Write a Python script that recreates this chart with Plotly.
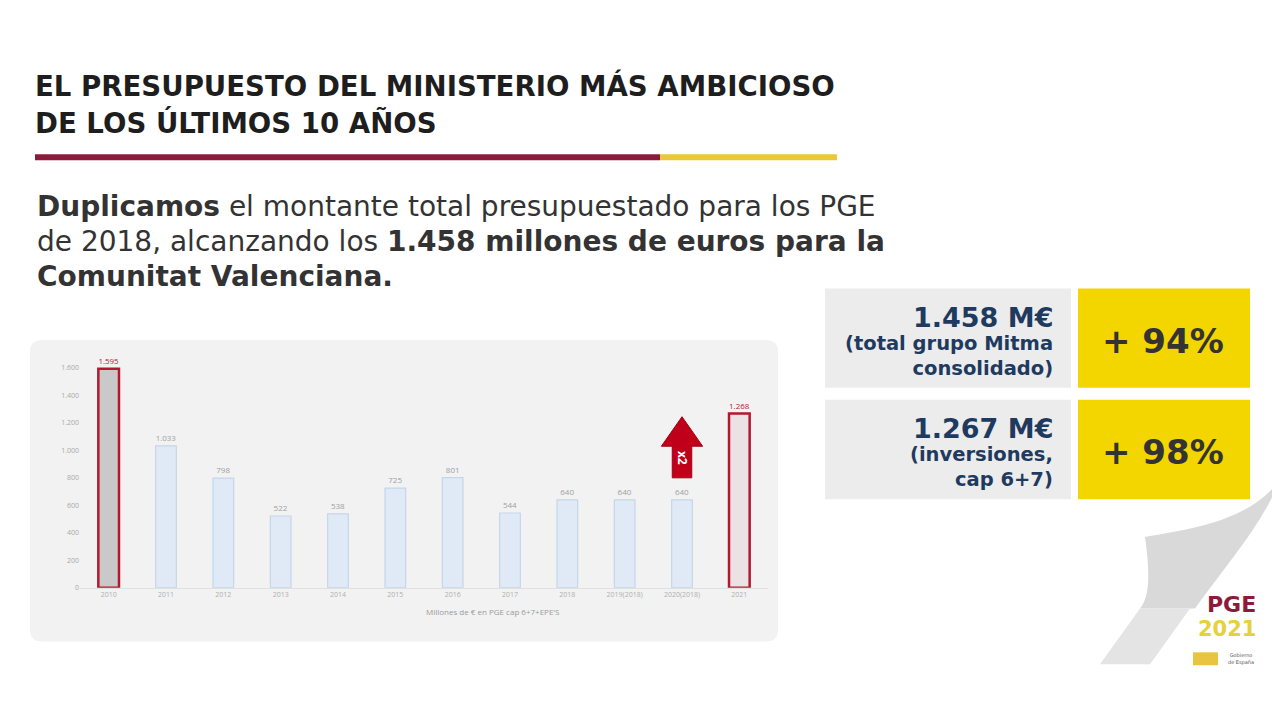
import plotly.graph_objects as go

# ---- data ----
categories = ["2010", "2011", "2012", "2013", "2014", "2015", "2016", "2017",
              "2018", "2019(2018)", "2020(2018)", "2021"]
values = [1595, 1033, 798, 522, 538, 725, 801, 544, 640, 640, 640, 1268]
highlight = [True, False, False, False, False, False, False, False, False, False, False, True]
y_ticks = [0, 200, 400, 600, 800, 1000, 1200, 1400, 1600]

title_lines = ["EL PRESUPUESTO DEL MINISTERIO MÁS AMBICIOSO", "DE LOS ÚLTIMOS 10 AÑOS"]
subtitle_lines = [
    "<b>Duplicamos</b> el montante total presupuestado para los PGE",
    "de 2018, alcanzando los <b>1.458 millones de euros para la</b>",
    "<b>Comunitat Valenciana.</b>",
]
box_main = ["1.458 M€", "1.267 M€"]
box_sub = ["(total grupo Mitma<br>consolidado)", "(inversiones,<br>cap 6+7)"]
box_pct = ["+ 94%", "+ 98%"]
axis_title = "Millones de € en PGE cap 6+7+EPE'S"

# page body margin of 8px is compensated here
OFF = 8
W, H = 1280 - 2 * OFF, 720 - 2 * OFF
def px(x):
    return (x - OFF) / W
def py(y):
    return 1 - (y - OFF) / H

RED = "#b3182f"
MAROON = "#8c1b3b"
YELLOW = "#f3d500"
NAVY = "#1f3a5f"

fill_colors = ["#c9c9c9" if h else "#dfeaf6" for h in highlight]
fill_colors[-1] = "#ebe3e3"
line_colors = [RED if h else "#c5d6e8" for h in highlight]
line_widths = [2.5 if h else 1.2 for h in highlight]
text_colors = [RED if h else "#a0a0a0" for h in highlight]

fig = go.Figure()
fig.add_trace(go.Bar(
    x=categories, y=values,
    width=0.36,
    marker=dict(color=fill_colors, line=dict(color=line_colors, width=line_widths)),
    text=values, texttemplate="%{y:,d}", textposition="outside",
    textfont=dict(size=8, color=text_colors, family="Open Sans"),
    cliponaxis=False, hoverinfo="x+y",
))

shapes = []
# left faint page edge
shapes.append(dict(type="line", xref="paper", yref="paper", x0=px(6), x1=px(6), y0=py(50), y1=py(668),
                   line=dict(color="#e6e6e6", width=1.5)))
# title underline
shapes.append(dict(type="line", xref="paper", yref="paper", x0=px(35), x1=px(660), y0=py(158), y1=py(158),
                   line=dict(color=MAROON, width=6)))
shapes.append(dict(type="line", xref="paper", yref="paper", x0=px(660), x1=px(837), y0=py(158), y1=py(158),
                   line=dict(color="#e9c937", width=6)))
# chart panel, rounded
x0, x1, y0, y1, r = 30, 778, 342, 645, 12
path = (f"M {px(x0+r)},{py(y0)} L {px(x1-r)},{py(y0)} Q {px(x1)},{py(y0)} {px(x1)},{py(y0+r)} "
        f"L {px(x1)},{py(y1-r)} Q {px(x1)},{py(y1)} {px(x1-r)},{py(y1)} "
        f"L {px(x0+r)},{py(y1)} Q {px(x0)},{py(y1)} {px(x0)},{py(y1-r)} "
        f"L {px(x0)},{py(y0+r)} Q {px(x0)},{py(y0)} {px(x0+r)},{py(y0)} Z")
shapes.append(dict(type="path", xref="paper", yref="paper", path=path, fillcolor="#f2f2f2",
                   line=dict(width=0), layer="below"))
# right boxes
for i, (top, bot) in enumerate([(290, 390), (402, 502)]):
    shapes.append(dict(type="rect", xref="paper", yref="paper", x0=px(825), x1=px(1071), y0=py(bot), y1=py(top),
                       fillcolor="#ececec", line=dict(width=0), layer="below"))
    shapes.append(dict(type="rect", xref="paper", yref="paper", x0=px(1078), x1=px(1250), y0=py(bot), y1=py(top),
                       fillcolor=YELLOW, line=dict(width=0), layer="below"))
# red "x2" arrow above the 2020 bar (data coords)
ax_i = 10
a_bot, a_neck, a_tip = 800, 1030, 1245
hw, sw = 0.36, 0.17
arrow = (f"M {ax_i-sw},{a_bot} L {ax_i-sw},{a_neck} L {ax_i-hw},{a_neck} L {ax_i},{a_tip} "
         f"L {ax_i+hw},{a_neck} L {ax_i+sw},{a_neck} L {ax_i+sw},{a_bot} Z")
shapes.append(dict(type="path", xref="x", yref="y", path=arrow, fillcolor="#c0001a",
                   line=dict(color="#9e0016", width=1)))
# page curl decoration bottom-right
curl = (f"M {px(1272)},{py(492)} C {px(1240)},{py(525)} {px(1190)},{py(532)} {px(1145)},{py(540)} "
        f"C {px(1150)},{py(575)} {px(1150)},{py(600)} {px(1140)},{py(612)} "
        f"L {px(1195)},{py(612)} C {px(1225)},{py(570)} {px(1255)},{py(535)} {px(1272)},{py(500)} Z")
shapes.append(dict(type="path", xref="paper", yref="paper", path=curl, fillcolor="#d9d9d9",
                   line=dict(width=0), layer="below"))
shapes.append(dict(type="path", xref="paper", yref="paper",
                   path=(f"M {px(1100)},{py(668)} L {px(1140)},{py(612)} L {px(1190)},{py(612)} "
                         f"L {px(1150)},{py(668)} Z"),
                   fillcolor="#e4e4e4", line=dict(width=0), layer="below"))
# tiny logo blocks
shapes.append(dict(type="rect", xref="paper", yref="paper", x0=px(1193), x1=px(1218), y0=py(669), y1=py(656),
                   fillcolor="#e8c440", line=dict(width=0)))

ann = []
for i, t in enumerate(title_lines):
    ann.append(dict(xref="paper", yref="paper", x=px(33), y=py(86 + 38 * i), text=f"<b>{t}</b>",
                    showarrow=False, xanchor="left", yanchor="middle",
                    font=dict(family="DejaVu Sans", size=27.6, color="#1e1e1e")))
for i, t in enumerate(subtitle_lines):
    ann.append(dict(xref="paper", yref="paper", x=px(35), y=py(208 + 35 * i), text=t,
                    showarrow=False, xanchor="left", yanchor="middle",
                    font=dict(family="DejaVu Sans", size=28, color="#333333")))
for i, top in enumerate([290, 402]):
    ann.append(dict(xref="paper", yref="paper", x=px(1055), y=py(top + 29), text=f"<b>{box_main[i]}</b>",
                    showarrow=False, xanchor="right", yanchor="middle",
                    font=dict(family="DejaVu Sans", size=27, color=NAVY)))
    ann.append(dict(xref="paper", yref="paper", x=px(1055), y=py(top + 68), text=f"<b>{box_sub[i]}</b>",
                    showarrow=False, xanchor="right", yanchor="middle", align="right",
                    font=dict(family="DejaVu Sans", size=19.5, color=NAVY)))
    ann.append(dict(xref="paper", yref="paper", x=px(1163), y=py(top + 53), text=f"<b>{box_pct[i]}</b>",
                    showarrow=False, xanchor="center", yanchor="middle",
                    font=dict(family="DejaVu Sans", size=34, color="#333333")))
# arrow label
ann.append(dict(xref="x", yref="y", x=ax_i, y=(a_bot + a_neck) / 2 + 30, text="<b>x2</b>", textangle=90,
                showarrow=False, font=dict(family="Open Sans", size=12, color="#ffffff")))
# axis title
ann.append(dict(xref="paper", yref="paper", x=px(424), y=py(622), text=axis_title, showarrow=False,
                font=dict(family="Open Sans", size=8, color="#9a9a9a")))
# logo
ann.append(dict(xref="paper", yref="paper", x=px(1258), y=py(608), text="<b>PGE</b>", showarrow=False,
                xanchor="right", yanchor="middle", font=dict(family="DejaVu Sans", size=22, color=MAROON)))
ann.append(dict(xref="paper", yref="paper", x=px(1258), y=py(633), text="<b>2021</b>", showarrow=False,
                xanchor="right", yanchor="middle", font=dict(family="DejaVu Sans", size=21, color="#e3d23c")))
ann.append(dict(xref="paper", yref="paper", x=px(1226), y=py(663), text="Gobierno<br>de España", showarrow=False,
                xanchor="left", yanchor="middle", font=dict(family="DejaVu Sans", size=5, color="#555555")))

fig.update_layout(
    width=W, height=H,
    margin=dict(l=0, r=0, t=0, b=0),
    paper_bgcolor="#ffffff", plot_bgcolor="rgba(0,0,0,0)",
    separators=",.",
    showlegend=False,
    shapes=shapes, annotations=ann,
    xaxis=dict(domain=[px(80), px(768)], type="category", showgrid=False, showline=True,
               linecolor="#e0e0e0", ticks="", tickfont=dict(size=7, color="#b0b0b0", family="Open Sans"),
               tickangle=0, fixedrange=True),
    yaxis=dict(domain=[py(591), py(356.2)], range=[0, 1700], tickvals=y_ticks, tickformat=",d",
               showgrid=False, zeroline=False, showline=False, ticks="",
               tickfont=dict(size=7, color="#a8a8a8", family="Open Sans"), fixedrange=True),
    bargap=0.6,
)

fig.write_html("out.html")
